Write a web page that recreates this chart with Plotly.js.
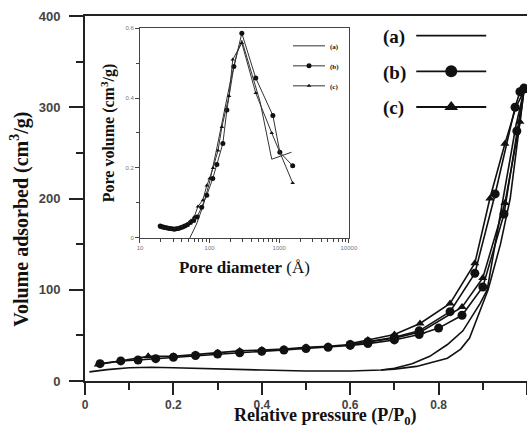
<!DOCTYPE html>
<html>
<head>
<meta charset="utf-8">
<script src="https://cdn.plot.ly/plotly-3.0.1.min.js"></script>
<style>html,body{margin:0;padding:0;background:#fff;}#chart{width:527px;height:428px;}</style>
</head>
<body>
<div id="chart"></div>
<script>
// ---- Main isotherm data (relative pressure P/P0 vs volume adsorbed, cm3/g) ----
var seriesLabels = ['(a)', '(b)', '(c)'];

// (a) plain line
var pAdsA = [0.01,0.05,0.1,0.15,0.2,0.3,0.4,0.5,0.6,0.67,0.7,0.75,0.8,0.82,0.85,0.87,0.912,0.94,0.962,0.985,0.993];
var vAdsA = [10,12.5,14.5,15,14.5,13,12,11,11,12,13,16,22,25,35,47,100,150,200,290,318];
var pDesA = [0.993,0.975,0.946,0.91,0.894,0.855,0.82,0.8,0.78,0.74,0.7,0.67];
var vDesA = [318,280,200,100,85,55,40,33,27,19,14,12];

// (b) circles
var pAdsB = [0.034,0.081,0.12,0.16,0.2,0.25,0.3,0.35,0.4,0.45,0.5,0.55,0.6,0.64,0.7,0.756,0.8,0.853,0.9,0.948,0.977,0.993];
var vAdsB = [19,22,23,24.5,26,28,29.5,31,32.5,34,35.5,37,39,41,45,51,58,72,103,183,274,320];
var pDesB = [0.993,0.984,0.973,0.928,0.882,0.826,0.756,0.7,0.64,0.6];
var vDesB = [321,317,300,205,118,76,55,48,43,40];

// (c) triangles
var pAdsC = [0.03,0.08,0.143,0.2,0.25,0.3,0.35,0.4,0.45,0.5,0.55,0.6,0.64,0.7,0.76,0.853,0.9,0.95,0.984,0.993];
var vAdsC = [18,22,27,27,29,31,33,34,35,37,38,40,43,47,54,81,113,195,284,318];
var pDesC = [0.993,0.975,0.95,0.916,0.882,0.826,0.758,0.7,0.64,0.6];
var vDesC = [318,300,260,200,129,85,63,51,45,41];

// ---- Inset: pore size distribution (pore diameter in Angstrom vs pore volume cm3/g) ----
var dA = [52,65,80,100,125,150,200,250,290,530,780,1500];
var pvA = [0,0.04,0.09,0.16,0.25,0.33,0.45,0.53,0.565,0.39,0.225,0.245];

var dB = [19.5,20.5,21.5,22.5,24,25.5,27,29,31,33,35.5,38,41,44,48,53,59,66,77,91,111,127,155,177,223,290,460,810,1020,1560];
var pvB = [0.034,0.032,0.031,0.03,0.029,0.028,0.027,0.026,0.025,0.026,0.027,0.029,0.031,0.034,0.038,0.044,0.05,0.06,0.088,0.122,0.17,0.21,0.27,0.366,0.49,0.585,0.457,0.35,0.245,0.206];

var dC = [20,22,24,27,30,34,38,43,48,54,60,68,80,91,100,112,132,150,190,215,290,460,780,1560];
var pvC = [0.03,0.029,0.028,0.027,0.026,0.027,0.03,0.035,0.04,0.05,0.06,0.09,0.108,0.15,0.17,0.2,0.25,0.317,0.406,0.51,0.557,0.414,0.30,0.157];

// Tick labels and axis titles
var mainXTicks = [0,0.2,0.4,0.6,0.8,1];
var mainXTickText = ['0','0.2','0.4','0.6','0.8','1'];
var mainYTicks = [0,100,200,300,400];
var insetXTicks = [10,100,1000,10000];
var insetXTickText = ['10','100','1000','10000'];
var insetXMinor = [20,30,40,50,60,70,80,90,200,300,400,500,600,700,800,900,2000,3000,4000,5000,6000,7000,8000,9000];
var insetYTicks = [0,0.2,0.4,0.6];
var insetYTickText = ['0','0.2','0.4','0.6'];
var mainXTitle = 'Relative pressure (P/P<sub>0</sub>)';
var mainYTitle = 'Volume adsorbed (cm<sup>3</sup>/g)';

var BLACK = '#111';
function mainTrace(x, y, sym, size, showLeg, idx) {
  var t = {x:x, y:y, type:'scatter', xaxis:'x', yaxis:'y', legendgroup:'m'+idx, showlegend:showLeg,
    name:seriesLabels[idx], hoverinfo:'x+y', line:{color:BLACK, width:1.6}, legend:'legend'};
  if (sym) { t.mode = 'lines+markers'; t.marker = {symbol:sym, size:size, color:BLACK}; }
  else { t.mode = 'lines'; }
  return t;
}
function insetTrace(x, y, sym, size, idx) {
  var t = {x:x, y:y, type:'scatter', xaxis:'x2', yaxis:'y2', legendgroup:'i'+idx, showlegend:true,
    name:seriesLabels[idx], hoverinfo:'x+y', line:{color:'#333', width:1}, legend:'legend2'};
  if (sym) { t.mode = 'lines+markers'; t.marker = {symbol:sym, size:size, color:BLACK}; }
  else { t.mode = 'lines'; }
  return t;
}

var data = [
  mainTrace(pAdsA, vAdsA, null, 0, true, 0),
  mainTrace(pDesA, vDesA, null, 0, false, 0),
  mainTrace(pAdsB, vAdsB, 'circle', 9, true, 1),
  mainTrace(pDesB, vDesB, 'circle', 9, false, 1),
  mainTrace(pAdsC, vAdsC, 'triangle-up', 8, true, 2),
  mainTrace(pDesC, vDesC, 'triangle-up', 8, false, 2),
  insetTrace(dA, pvA, null, 0, 0),
  insetTrace(dB, pvB, 'circle', 5, 1),
  insetTrace(dC, pvC, 'triangle-up', 4, 2)
];

var serif = 'Liberation Serif, Times New Roman, serif';
var sans = 'Liberation Sans, Arial, sans-serif';

var layout = {
  width:527, height:428,
  margin:{l:85, r:0, t:16, b:47},
  paper_bgcolor:'#fff', plot_bgcolor:'#fff',
  showlegend:true,
  xaxis:{
    range:[0,1], domain:[0,1], anchor:'y',
    tickvals:mainXTicks, ticktext:mainXTickText,
    ticks:'outside', ticklen:12, tickwidth:2, tickcolor:'#222',
    minor:{ticks:'outside', ticklen:7, tickwidth:2, tickcolor:'#222', dtick:0.1, showgrid:false},
    showline:true, linewidth:2, linecolor:'#222', mirror:true,
    showgrid:false, zeroline:false,
    tickfont:{family:sans, size:12, color:'#444', weight:'bold'}
  },
  yaxis:{
    range:[0,400], domain:[0,1], anchor:'x',
    tickvals:mainYTicks,
    ticks:'outside', ticklen:14, tickwidth:2, tickcolor:'#222',
    minor:{ticks:'outside', ticklen:7, tickwidth:2, tickcolor:'#222', dtick:50, showgrid:false},
    showline:true, linewidth:2, linecolor:'#222',
    showgrid:false, zeroline:false, ticklabelstandoff:6,
    tickfont:{family:sans, size:13, color:'#444', weight:'bold'}
  },
  xaxis2:{
    type:'log', range:[1,4], domain:[0.1244,0.597], anchor:'y2',
    tickvals:insetXTicks, ticktext:insetXTickText,
    ticks:'outside', ticklen:4, tickwidth:1, tickcolor:'#444',
    minor:{ticks:'outside', ticklen:3, tickwidth:1, tickcolor:'#444', showgrid:false, tickvals:insetXMinor},
    showline:true, linewidth:1, linecolor:'#444', mirror:true,
    showgrid:false, zeroline:false,
    tickfont:{family:sans, size:6, color:'#777'},
    title:{text:'<b>Pore diameter</b> (Å)', font:{family:serif, size:17, color:'#111'}, standoff:10}
  },
  yaxis2:{
    range:[0,0.6], domain:[0.392,0.967], anchor:'x2',
    tickvals:insetYTicks, ticktext:insetYTickText,
    ticks:'outside', ticklen:4, tickwidth:1, tickcolor:'#444',
    minor:{ticks:'outside', ticklen:3, tickwidth:1, tickcolor:'#444', dtick:0.1, showgrid:false},
    showline:true, linewidth:1, linecolor:'#444', mirror:true,
    showgrid:false, zeroline:false,
    tickfont:{family:sans, size:6, color:'#777'},
    title:{text:'Pore volume (cm<sup>3</sup>/g)', font:{family:serif, size:16, color:'#111', weight:'bold'}, standoff:6}
  },
  legend:{
    x:0.6629, y:0.998, xanchor:'left', yanchor:'top',
    itemwidth:70, itemsizing:'constant', tracegroupgap:8,
    font:{size:19, family:serif, color:'#111', weight:'bold'}, bgcolor:'rgba(0,0,0,0)', borderwidth:0
  },
  legend2:{
    x:0.4593, y:0.958, xanchor:'left', yanchor:'top',
    itemwidth:32, itemsizing:'trace', tracegroupgap:1,
    font:{size:7, family:serif, color:'#111', weight:'bold'}, bgcolor:'rgba(0,0,0,0)', borderwidth:0
  },
  annotations:[
    {xref:'paper', yref:'paper', x:0.545, y:-0.0986, xanchor:'center', yanchor:'middle', showarrow:false,
     text:mainXTitle, font:{family:serif, size:18, color:'#111', weight:'bold'}},
    {xref:'paper', yref:'paper', x:-0.147, y:0.442, xanchor:'center', yanchor:'middle', showarrow:false, textangle:-90,
     text:mainYTitle, font:{family:serif, size:20, color:'#111', weight:'bold'}}
  ]
};

// Place legend labels to the left of their symbols (as in the reference figure)
function labelsLeft(gd) {
  var texts = gd.querySelectorAll('text.legendtext');
  var groups = [];
  texts.forEach(function(t){
    var item = t.parentNode;
    while (item && !(item.classList && item.classList.contains('traces'))) item = item.parentNode;
    if (!item) return;
    var lg = item;
    while (lg && !(lg.querySelector && lg.querySelector('g.scrollbox') && lg.classList && !lg.classList.contains('scrollbox'))) lg = lg.parentNode;
    var g = null;
    for (var i = 0; i < groups.length; i++) if (groups[i].lg === lg) g = groups[i];
    if (!g) { g = {lg:lg, items:[]}; groups.push(g); }
    g.items.push({item:item, text:t});
  });
  groups.forEach(function(g){
    if (g.lg) g.lg.querySelectorAll('g.scrollbox').forEach(function(sb){ sb.removeAttribute('clip-path'); });
    var maxW = 0, fs = 12;
    g.items.forEach(function(o){
      maxW = Math.max(maxW, o.text.getComputedTextLength());
      fs = parseFloat(window.getComputedStyle(o.text).fontSize) || fs;
    });
    var big = fs > 12;
    var gap = big ? 10 : 6;
    g.items.forEach(function(o){
      o.text.setAttribute('x', 5);
      o.text.querySelectorAll('tspan[x]').forEach(function(s){ s.setAttribute('x', 5); });
      var layers = o.item.querySelector('g.layers');
      if (layers) layers.setAttribute('transform', 'translate(' + (maxW + gap) + ',0)');
      if (big) o.item.querySelectorAll('g.legendlines path').forEach(function(p){ p.style.strokeWidth = '1.8px'; });
    });
  });
}

Plotly.newPlot('chart', data, layout, {displayModeBar:false, staticPlot:true}).then(function(gd){
  labelsLeft(gd);
  gd.on('plotly_afterplot', function(){ labelsLeft(gd); });
  [0, 30, 100, 300, 800].forEach(function(ms){ setTimeout(function(){ labelsLeft(gd); }, ms); });
});
</script>
</body>
</html>
